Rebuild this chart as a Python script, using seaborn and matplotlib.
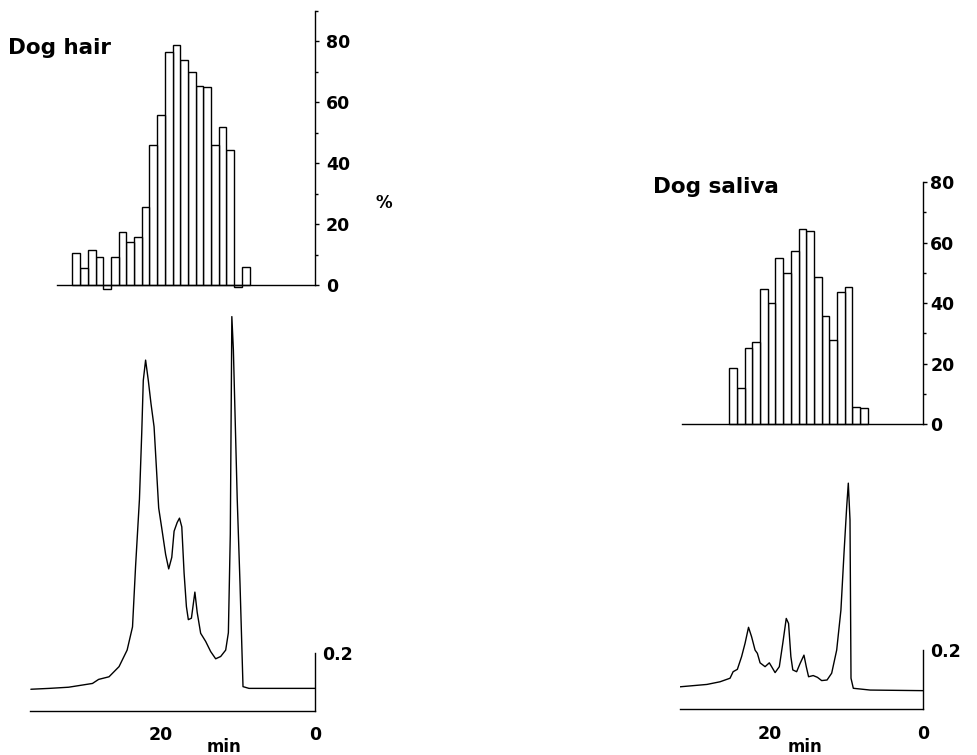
import numpy as np
import pandas as pd
import seaborn as sns
import matplotlib.pyplot as plt
from matplotlib.ticker import FixedLocator

# ---- data ----
# elution time (min) of each 1-min fraction and its % value
hair_frac_min = [31, 30, 29, 28, 27, 26, 25, 24, 23, 22, 21, 20, 19, 18, 17, 16,
                 15, 14, 13, 12, 11, 10, 9]
hair_frac_pct = [10.6, 5.5, 11.5, 9.3, -1.4, 9.3, 17.5, 14.2, 15.8, 25.7, 45.9, 55.7,
                 76.5, 78.7, 73.8, 69.9, 65.2, 64.8, 45.9, 51.7, 44.3, -0.5, 6.0]

saliva_frac_min = [24.7, 23.7, 22.7, 21.7, 20.7, 19.7, 18.7, 17.7, 16.7, 15.7, 14.7,
                   13.7, 12.7, 11.7, 10.7, 9.7, 8.7, 7.7]
saliva_frac_pct = [18.7, 12.1, 25.3, 27.3, 44.5, 39.9, 54.9, 49.8, 57.3, 64.3, 63.7,
                   48.5, 35.7, 27.8, 43.7, 45.2, 5.8, 5.3]

# absorbance traces (time in min, absorbance)
hair_t = [36.9, 34.5, 32.0, 28.9, 28.1, 26.75, 25.45, 24.4, 23.7, 23.3, 22.8, 22.5,
          22.3, 22.0, 21.65, 21.3, 20.9, 20.6, 20.3, 19.9, 19.4, 19.0, 18.6, 18.3,
          17.9, 17.6, 17.3, 17.0, 16.7, 16.45, 16.05, 15.6, 15.3, 14.85, 14.2, 13.55,
          12.9, 12.25, 11.6, 11.25, 11.0, 10.8, 10.6, 10.1, 9.74, 9.35, 8.57, 4.2, 0.0]
hair_abs = [0.075, 0.078, 0.082, 0.095, 0.109, 0.118, 0.153, 0.21, 0.29, 0.50, 0.73,
            0.96, 1.14, 1.21, 1.14, 1.06, 0.98, 0.84, 0.70, 0.63, 0.54, 0.49, 0.53,
            0.62, 0.65, 0.665, 0.635, 0.475, 0.36, 0.315, 0.32, 0.41, 0.34, 0.268,
            0.24, 0.205, 0.18, 0.188, 0.21, 0.27, 0.61, 1.36, 1.245, 0.73, 0.44,
            0.084, 0.078, 0.078, 0.078]

saliva_t = [31.6, 28.1, 26.4, 25.1, 24.7, 24.15, 23.6, 23.15, 22.7, 22.3, 21.85,
            21.55, 21.2, 20.55, 20.0, 19.7, 19.25, 18.7, 18.25, 17.8, 17.5, 17.2,
            16.95, 16.45, 16.0, 15.5, 15.2, 14.9, 14.3, 13.75, 13.2, 12.5, 11.9,
            11.25, 10.7, 10.3, 9.95, 9.74, 9.52, 9.39, 9.09, 6.9, 0.0]
saliva_abs = [0.076, 0.084, 0.093, 0.105, 0.127, 0.135, 0.178, 0.223, 0.277, 0.245,
              0.20, 0.189, 0.157, 0.144, 0.157, 0.144, 0.124, 0.144, 0.223, 0.307,
              0.29, 0.178, 0.133, 0.127, 0.155, 0.183, 0.144, 0.11, 0.114, 0.108,
              0.097, 0.099, 0.122, 0.20, 0.335, 0.527, 0.684, 0.764, 0.64, 0.105,
              0.071, 0.065, 0.063]

sns.set_theme(style="white")
plt.rcParams['font.family'] = ['DejaVu Sans']
plt.rcParams['font.weight'] = 'bold'
for key in ['text.color', 'axes.labelcolor', 'xtick.color', 'ytick.color']:
    plt.rcParams[key] = 'black'

W, H = 977, 755
fig = plt.figure(figsize=(W / 100, H / 100), dpi=100)


def add_ax(left, right, top, bottom):
    # positions given in pixels of the output image
    return fig.add_axes([left / W, 1 - bottom / H, (right - left) / W, (bottom - top) / H])


def hist_panel(ax, t, pct, xmax, ytop, base_start, label_pad):
    df = pd.DataFrame({"min": t, "pct": pct})
    sns.barplot(data=df, x="min", y="pct", native_scale=True, width=1.0,
                color="white", edgecolor="black", linewidth=1.0, ax=ax)
    ax.set_xlim(xmax, 0)
    ax.patch.set_visible(False)
    for s in ["left", "top"]:
        ax.spines[s].set_visible(False)
    ax.spines["bottom"].set_position(("data", 0))
    ax.spines["bottom"].set_bounds(0, base_start)
    ax.spines["right"].set_bounds(0, ytop)
    for s in ["bottom", "right"]:
        ax.spines[s].set_color("black")
        ax.spines[s].set_linewidth(1.0)
    ax.set_xticks([])
    ax.yaxis.tick_right()
    ax.yaxis.set_major_locator(FixedLocator([0, 20, 40, 60, 80]))
    ax.yaxis.set_minor_locator(FixedLocator([10, 30, 50, 70] + ([90] if ytop >= 90 else [])))
    ax.tick_params(axis="y", which="major", direction="out", length=3, width=1,
                   pad=label_pad, labelsize=12.5)
    ax.tick_params(axis="y", which="minor", direction="out", length=2, width=1,
                   right=True)
    ax.set_xlabel("")
    ax.set_ylabel("")


def trace_panel(ax, t, a, xmax, ytop):
    sns.lineplot(x=t, y=a, color="black", linewidth=1.0, ax=ax)
    ax.set_xlim(xmax, 0)
    ax.set_ylim(0, ytop)
    ax.patch.set_visible(False)
    for s in ["left", "top"]:
        ax.spines[s].set_visible(False)
    for s in ["bottom", "right"]:
        ax.spines[s].set_color("black")
        ax.spines[s].set_linewidth(1.0)
    ax.spines["right"].set_bounds(0, 0.2)
    ax.yaxis.tick_right()
    ax.set_yticks([0.2])
    ax.set_yticklabels(["0.2"])
    ax.tick_params(axis="y", length=0, pad=5, labelsize=12.5)
    ax.set_xticks([30, 20, 10, 0])
    ax.set_xticklabels(["", "20", "", "0"])
    ax.tick_params(axis="x", direction="out", length=3, width=1, pad=8,
                   labelsize=12.5)
    ax.xaxis.get_major_ticks()[-1].tick1line.set_visible(False)
    ax.set_xlabel("")
    ax.set_ylabel("")


# ---- Dog hair ----
ax_h1 = add_ax(30.1, 315, 4.4, 300.3)
ax_h1.set_ylim(-5, 92)
hist_panel(ax_h1, hair_frac_min, hair_frac_pct, 37, 90, 33.5, 5)
ax_t1 = add_ax(30.1, 315, 299.2, 711)
trace_panel(ax_t1, hair_t, hair_abs, 37, 1.42)

# ---- Dog saliva ----
ax_h2 = add_ax(680, 923.3, 169.8, 439.5)
ax_h2.set_ylim(-5, 84)
hist_panel(ax_h2, saliva_frac_min, saliva_frac_pct, 31.6, 80, 31.4, 2)
ax_t2 = add_ax(680, 923.3, 457.7, 709.3)
trace_panel(ax_t2, saliva_t, saliva_abs, 31.6, 0.85)

fig.text(8 / W, 1 - 54 / H, "Dog hair", fontsize=15.5, fontweight="bold",
         ha="left", va="baseline")
fig.text(653 / W, 1 - 193 / H, "Dog saliva", fontsize=15.5, fontweight="bold",
         ha="left", va="baseline")
fig.text(384 / W, 1 - 203 / H, "%", fontsize=12, fontweight="bold",
         ha="center", va="center")
fig.text(224 / W, 1 - 747 / H, "min", fontsize=12, fontweight="bold",
         ha="center", va="center")
fig.text(805 / W, 1 - 747 / H, "min", fontsize=12, fontweight="bold",
         ha="center", va="center")

fig.savefig("out.png", dpi=100)
plt.close(fig)
